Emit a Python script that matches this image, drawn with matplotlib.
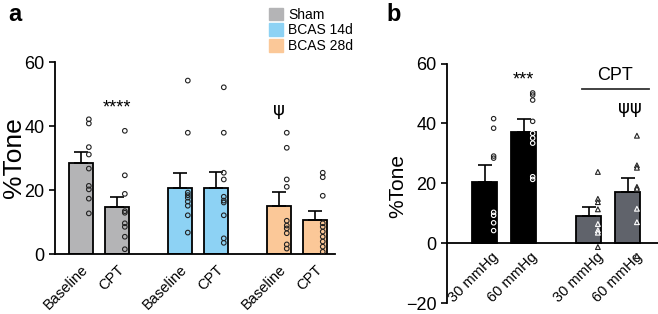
import matplotlib.pyplot as plt
import numpy as np

# panel a data
groups_a = ["Sham", "BCAS 14d", "BCAS 28d"]
xlabels_a = ["Baseline", "CPT", "Baseline", "CPT", "Baseline", "CPT"]
means_a = [28.3, 14.6, 20.7, 20.7, 15.1, 10.5]
sems_a = [3.6, 3.3, 4.7, 4.8, 4.2, 2.9]
pts_a = [
    [42.1, 40.8, 33.4, 31.1, 26.7, 21.3, 20.2, 17.3, 12.7],
    [38.5, 24.6, 18.8, 13.4, 12.9, 9.6, 8.5, 5.4, 1.5],
    [54.2, 37.9, 19.2, 18.4, 17.6, 16.4, 15.1, 12.1, 6.7],
    [52.1, 37.9, 25.4, 23.3, 17.9, 16.7, 16.1, 12.1, 4.9, 3.5],
    [37.9, 33.2, 23.3, 21.0, 10.4, 8.9, 8.0, 6.5, 3.0, 1.7],
    [25.4, 24.0, 18.2, 9.6, 8.5, 7.0, 5.4, 3.9, 2.3, 0.7],
]

# panel b data
xlabels_b = ["30 mmHg", "60 mmHg", "30 mmHg", "60 mmHg"]
means_b = [20.6, 37.0, 9.1, 17.0]
sems_b = [5.4, 4.6, 3.1, 4.9]
pts_b = [
    [41.6, 38.4, 29.1, 28.4, 10.3, 9.3, 6.8, 4.2],
    [50.2, 49.5, 47.8, 40.7, 36.7, 35.1, 33.4, 22.2, 21.3],
    [23.8, 14.8, 13.7, 11.3, 6.4, 4.3, 3.5, -1.3],
    [35.9, 26.0, 25.2, 18.8, 18.2, 11.5, 7.0, -4.3],
]

col_a = ["#b4b4b6", "#b4b4b6", "#8dd2f4", "#8dd2f4", "#fbc898", "#fbc898"]
col_b = ["#000000", "#000000", "#60636b", "#60636b"]

plt.rcParams['font.family'] = ['Liberation Sans', 'DejaVu Sans']
fig = plt.figure(figsize=(6.58, 3.14), dpi=100)

# ---- panel a
ax = fig.add_axes([0.0836, 0.191, 0.4255, 0.6115])
xa = np.array([0, 1, 2.75, 3.75, 5.5, 6.5])
ax.bar(xa, means_a, width=0.67, color=col_a, edgecolor="black", linewidth=1.3, zorder=2)
ax.errorbar(xa, np.array(means_a), yerr=[np.zeros(6), sems_a], fmt="none",
            ecolor="black", elinewidth=1.2, capsize=5, capthick=1.2, zorder=3)
for x, p in zip(xa, pts_a):
    ax.scatter(np.full(len(p), x + 0.22), p, s=11, facecolor="none",
               edgecolor="#222222", linewidth=0.8, zorder=4)
ax.set_xlim(-0.72, 7.06)
ax.set_ylim(0, 60)
ax.set_yticks([0, 20, 40, 60])
ax.set_xticks(xa)
ax.set_xticklabels(xlabels_a, rotation=45, ha="right", rotation_mode="anchor", fontsize=10.5)
ax.tick_params(axis="x", length=0, pad=6)
ax.tick_params(axis="y", labelsize=13, length=4, width=1.2)
for s in ["top", "right"]:
    ax.spines[s].set_visible(False)
for s in ["left", "bottom"]:
    ax.spines[s].set_linewidth(1.3)
ax.set_ylabel("%Tone", fontsize=19)
ax.yaxis.set_label_coords(-0.104, 0.5)
ax.text(xa[1], 45.5, "****", ha="center", va="center", fontsize=13)
ax.text(xa[4], 45, "ψ", ha="center", va="center", fontsize=13, family="DejaVu Sans")

# legend
handles = [plt.Rectangle((0, 0), 1, 1, color=c) for c in ["#b4b4b6", "#8dd2f4", "#fbc898"]]
fig.legend(handles, groups_a, loc="upper left", bbox_to_anchor=(0.39, 1.015), frameon=False,
           fontsize=10, handlelength=1.0, handleheight=1.0, handletextpad=0.35, labelspacing=0.12)

# ---- panel b
bx = fig.add_axes([0.679, 0.035, 0.321, 0.7625])
xb = np.array([0, 1, 2.67, 3.67])
bx.bar(xb, means_b, width=0.64, color=col_b, edgecolor="black", linewidth=1.3, zorder=2)
bx.errorbar(xb, np.array(means_b), yerr=[np.zeros(4), sems_b], fmt="none",
            ecolor="black", elinewidth=1.2, capsize=5, capthick=1.2, zorder=3)
for i, (x, p) in enumerate(zip(xb, pts_b)):
    p = np.array(p)
    inside = (p < means_b[i]) & (p > 0)
    ec = np.where(inside, "white", "#222222")
    mk = "o" if i < 2 else "^"
    fc = "none" if i < 2 else np.where(inside, "#60636b", "white")
    bx.scatter(np.full(len(p), x + 0.23), p, s=10 if i < 2 else 12, marker=mk,
               facecolor=fc, edgecolor=ec, linewidth=0.8, zorder=4)
bx.set_xlim(-0.97, 4.44)
bx.set_ylim(-20, 60)
bx.set_yticks([-20, 0, 20, 40, 60])
bx.spines["bottom"].set_position(("data", 0))
# labels sit a little right of the bar centres in the original
bx.set_xticks(xb + 0.18)
bx.set_xticklabels(xlabels_b, rotation=45, ha="right", rotation_mode="anchor", fontsize=10.5)
bx.tick_params(axis="x", length=0, pad=5)
bx.tick_params(axis="y", labelsize=13, length=4, width=1.2)
for s in ["top", "right"]:
    bx.spines[s].set_visible(False)
for s in ["left", "bottom"]:
    bx.spines[s].set_linewidth(1.3)
bx.set_ylabel("%Tone", fontsize=15)
bx.yaxis.set_label_coords(-0.185, 0.49)
bx.text(xb[1], 54.5, "***", ha="center", va="center", fontsize=13)
bx.plot([2.5, 4.2], [51.6, 51.6], color="#333333", lw=1.3, clip_on=False)
bx.text(3.35, 56, "CPT", ha="center", va="center", fontsize=13)
bx.text(xb[3] + 0.05, 45, "ψψ", ha="center", va="center", fontsize=13, family="DejaVu Sans")

fig.text(0.012, 0.955, "a", fontsize=17, fontweight="bold", va="center")
fig.text(0.588, 0.955, "b", fontsize=17, fontweight="bold", va="center")

fig.savefig("out.png", dpi=100)
